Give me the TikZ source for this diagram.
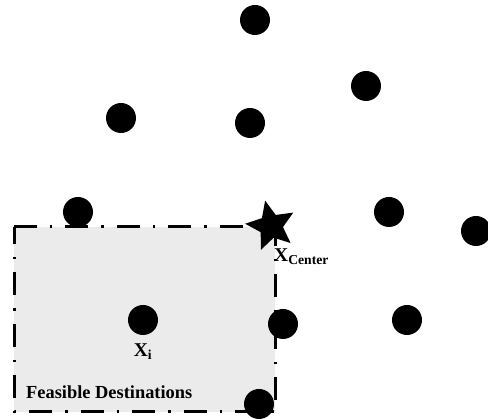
\documentclass[tikz,border=0pt]{standalone}
\usepackage{fontspec}
\setmainfont{Liberation Serif}
\begin{document}
\begin{tikzpicture}[x=1pt,y=-1pt,
  dot/.style={circle,fill=black,inner sep=0pt,minimum size=30pt},
  lbl/.style={font=\bfseries\fontsize{19.5}{19.5}\selectfont,inner sep=0pt}]
\useasboundingbox (0,0) rectangle (488,419);
\fill[black!8] (14,227) rectangle (275,412);
\draw[line width=3pt,dash pattern=on 23pt off 13pt on 2.5pt off 13pt,dash phase=6pt] (14,227) rectangle (275,412);
\node[dot] (d1) at (255,20) {};
\node[dot] (d2) at (366,86) {};
\node[dot] (d3) at (121,118) {};
\node[dot] (d4) at (250,123) {};
\node[dot] (d5) at (78,212) {};
\node[dot] (d6) at (389,212) {};
\node[dot] (d7) at (476,231) {};
\node[dot] (xi) at (143,320) {};
\node[dot] (d9) at (283,324) {};
\node[dot] (d10) at (407,320) {};
\node[dot] (d11) at (259,404) {};
\coordinate (xc) at (271,226);
\fill[black] (xc) +(-103:26) -- +(-139:12) -- +(-175:26) -- +(-211:12) -- +(-247:26) -- +(-283:12) -- +(-319:26) -- +(-355:12) -- +(-31:26) -- +(-67:12) -- cycle;
\node[lbl,anchor=west] (xcl) at (274,257) {X\textsubscript{Center}};
\node[lbl] (xil) at (143,352) {X\textsubscript{i}};
\node[lbl,anchor=west,font=\bfseries\fontsize{18.4}{18.4}\selectfont] (fd) at (26,392) {Feasible Destinations};
\end{tikzpicture}
\end{document}
